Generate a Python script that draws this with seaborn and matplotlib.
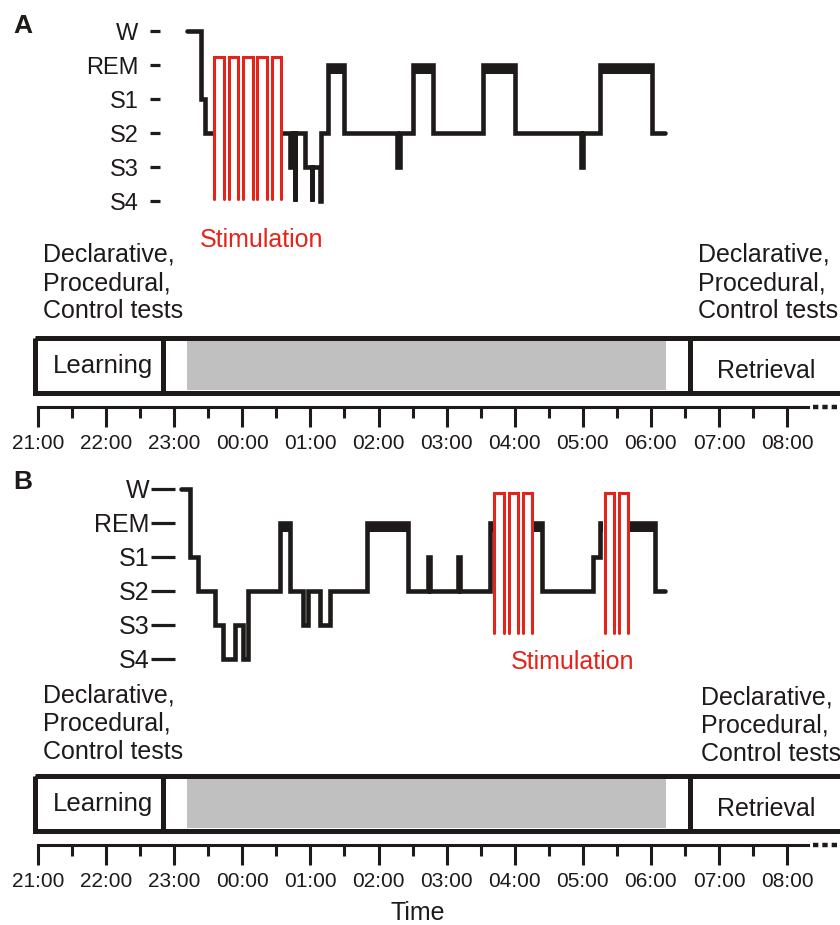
import numpy as np
import matplotlib
matplotlib.use("Agg")
import matplotlib.pyplot as plt
import seaborn as sns
from matplotlib.patches import Rectangle

# ----------------------------
# data
# ----------------------------
stages = ['S4', 'S3', 'S2', 'S1', 'REM', 'W']
stage_val = {s: i for i, s in enumerate(stages)}

# hours after 21:00
hypA_t = [2.19, 2.40, 2.45, 3.70, 3.75, 3.77, 3.78, 3.92, 4.02, 4.03, 4.14, 4.15,
          4.26, 4.49, 5.27, 5.32, 5.51, 5.80, 6.54, 7.00, 7.97, 8.01, 8.25, 9.02, 9.21]
hypA_s = ['W', 'S1', 'S2', 'S3', 'S2', 'S4', 'S2', 'S3', 'S4', 'S3', 'S4', 'S2',
          'REM', 'S2', 'S3', 'S2', 'REM', 'S2', 'REM', 'S2', 'S3', 'S2', 'REM', 'S2', 'S2']

hypB_t = [2.10, 2.23, 2.35, 2.60, 2.72, 2.89, 3.01, 3.08, 3.55, 3.70, 3.89, 3.96, 4.14,
          4.29, 4.83, 5.43, 5.73, 5.75, 6.17, 6.19, 6.64, 7.40, 8.15, 8.25, 9.06, 9.21]
hypB_s = ['W', 'S1', 'S2', 'S3', 'S4', 'S3', 'S4', 'S2', 'REM', 'S2', 'S3', 'S2', 'S3',
          'S2', 'REM', 'S2', 'S1', 'S2', 'S1', 'S2', 'REM', 'S2', 'S1', 'REM', 'S2', 'S2']

# stimulation blocks: (start hour, number of pulses)
stimA = [(2.59, 5)]
stimB = [(6.70, 3), (8.32, 2)]
stimA_range = (0.05, 4.24)
stimB_range = (0.76, 4.88)
pulse_period = 0.21
pulse_width = 0.14

# protocol timeline
learning_end = 1.83
retrieval_start = 9.57
sleep_window = (2.19, 9.22)
time_labels = ['21:00', '22:00', '23:00', '00:00', '01:00', '02:00',
               '03:00', '04:00', '05:00', '06:00', '07:00', '08:00']
test_text = "Declarative,\nProcedural,\nControl tests"

# ----------------------------
# layout helpers (pixels)
# ----------------------------
W, H = 840, 925
X0, PPH = 38.0, 68.1   # pixel of 21:00, pixels per hour
BLACK = '#1e1a1a'
RED = '#e3241b'

sns.set_theme(style="white")
plt.rcParams['font.family'] = ['Liberation Sans', 'DejaVu Sans']

fig = plt.figure(figsize=(W / 100, H / 100), dpi=100)


def px_ax(l, t, r, b):
    ax = fig.add_axes([l / W, 1 - b / H, (r - l) / W, (b - t) / H])
    ax.set_xlim((l - X0) / PPH, (r - X0) / PPH)
    ax.patch.set_alpha(0)
    return ax


def ftext(x, y, s, **kw):
    return fig.text(x / W, 1 - y / H, s, **kw)


def hypnogram(t, s, stim, stim_range, box, s4_px, fsize, tick_len, tick_pad):
    l, top, r, b = box
    ax = px_ax(l, top, r, b)
    ax.set_ylim((s4_px - b) / 34.0, (s4_px - top) / 34.0)
    y = [stage_val[v] for v in s]
    sns.lineplot(x=t, y=y, drawstyle='steps-post', estimator=None, sort=False,
                 color=BLACK, lw=3.3, ax=ax, solid_joinstyle='miter', zorder=2)
    # thick REM bars
    for i in range(len(t) - 1):
        if s[i] == 'REM':
            ax.fill_between([t[i], t[i + 1]], 4 - 0.27, 4, color=BLACK, lw=0, zorder=2)
    # stimulation
    lo, hi = stim_range
    for start, n in stim:
        end = start + (n - 1) * pulse_period + pulse_width
        ax.add_patch(Rectangle((start - 0.02, lo - 0.05), end - start + 0.04, hi - lo + 0.15,
                               color='white', lw=0, zorder=3))
        for k in range(n):
            a = start + k * pulse_period
            ax.plot([a, a, a + pulse_width, a + pulse_width], [lo, hi, hi, lo],
                    color=RED, lw=2.2, solid_joinstyle='miter', zorder=4)
    ax.set_yticks(range(6))
    ax.set_yticklabels(stages, fontsize=fsize, color=BLACK)
    ax.tick_params(axis='y', direction='out', length=tick_len, width=2.3,
                   color=BLACK, pad=tick_pad, left=True)
    ax.set_xticks([])
    for sp in ax.spines.values():
        sp.set_visible(False)
    return ax


def timeline(top_px):
    # top_px = outer top of the protocol box
    axis_px = top_px + 72
    ax = px_ax(0, top_px - 8, W, axis_px)
    ax.set_ylim(axis_px, top_px - 8)
    y0, y1 = top_px + 2.5, top_px + 57.5
    ax.add_patch(Rectangle(((35 - X0) / PPH, y0), 14, y1 - y0, fill=False,
                           ec=BLACK, lw=3.6, zorder=3))
    ax.add_patch(Rectangle((sleep_window[0], top_px + 5), sleep_window[1] - sleep_window[0],
                           50, color='#c0c0c0', lw=0, zorder=1))
    for xv in (learning_end, retrieval_start):
        ax.plot([xv, xv], [y0, y1], color=BLACK, lw=3.6, zorder=3)
    ax.text(0.95, top_px + 31, "Learning", ha='center', va='center', fontsize=18.5, color=BLACK)
    ax.text(10.69, top_px + 36, "Retrieval", ha='center', va='center', fontsize=18, color=BLACK)
    # time axis
    for sp in ('top', 'left', 'right'):
        ax.spines[sp].set_visible(False)
    ax.spines['bottom'].set_linewidth(2.2)
    ax.spines['bottom'].set_color(BLACK)
    ax.spines['bottom'].set_bounds(0, 11.31)
    ax.set_xticks(range(len(time_labels)))
    ax.set_xticklabels(time_labels, fontsize=15, color=BLACK)
    ax.set_xticks(np.arange(0.5, 11.5, 1.0), minor=True)
    ax.tick_params(axis='x', which='major', direction='out', length=14.4, width=2.2,
                   color=BLACK, pad=5, bottom=True)
    ax.tick_params(axis='x', which='minor', direction='out', length=8, width=2.2,
                   color=BLACK, bottom=True)
    ax.set_yticks([])
    ax.plot([11.38, 11.8], [axis_px, axis_px], color=BLACK, lw=3.2,
            dashes=(1.2, 0.9), clip_on=False)
    return ax


# ----------------------------
# panel A
# ----------------------------
hypnogram(hypA_t, hypA_s, stimA, stimA_range, (160, 14, W, 215), 201, 17, 7.5, 8)
ftext(262, 240, "Stimulation", ha='center', va='center', fontsize=18, color=RED)
ftext(43, 283, test_text, ha='left', va='center', fontsize=18, color=BLACK, linespacing=1.22)
ftext(698, 283, test_text, ha='left', va='center', fontsize=18, color=BLACK, linespacing=1.22)
timeline(335)
ftext(23, 26, "A", ha='center', va='center', fontsize=19, fontweight='bold', color=BLACK)

# ----------------------------
# panel B
# ----------------------------
hypnogram(hypB_t, hypB_s, stimB, stimB_range, (175, 470, W, 680), 659, 18, 17, 1.5)
ftext(573, 662, "Stimulation", ha='center', va='center', fontsize=18, color=RED)
ftext(43, 724, test_text, ha='left', va='center', fontsize=18, color=BLACK, linespacing=1.22)
ftext(701, 726, test_text, ha='left', va='center', fontsize=18, color=BLACK, linespacing=1.22)
timeline(773)
ftext(23, 482, "B", ha='center', va='center', fontsize=19, fontweight='bold', color=BLACK)
ftext(418, 913, "Time", ha='center', va='center', fontsize=18, color=BLACK)

fig.savefig("out.png", dpi=100)
